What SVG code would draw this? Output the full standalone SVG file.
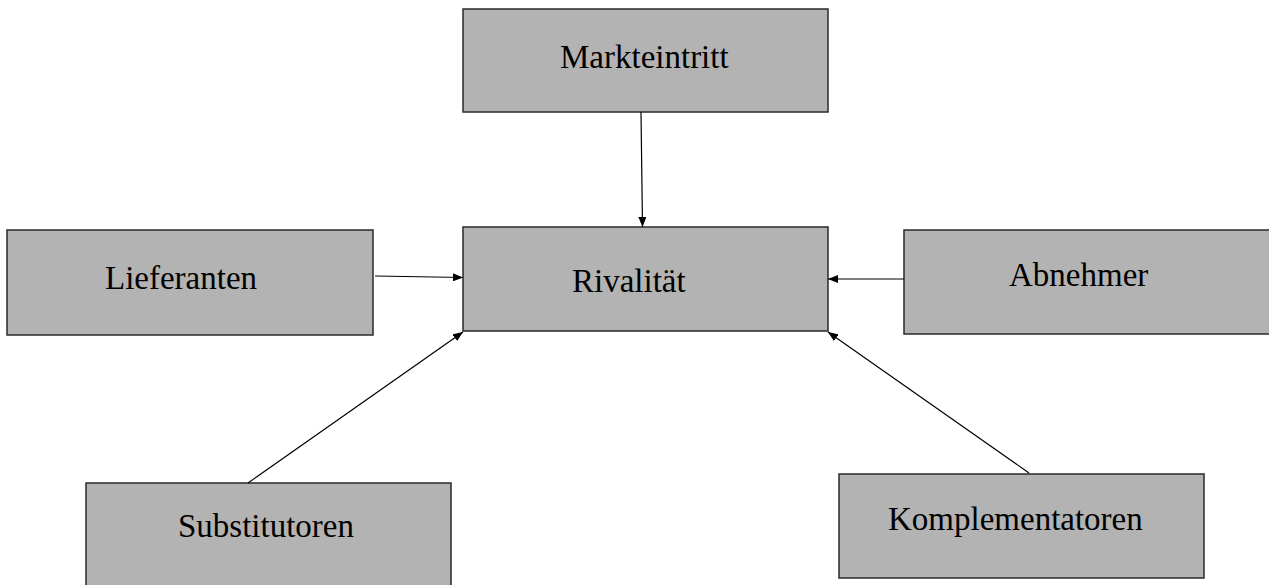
<svg xmlns="http://www.w3.org/2000/svg" width="1269" height="585" viewBox="0 0 1269 585">
<style>
.box{fill:#b3b3b3;stroke:#2a2a2a;stroke-width:1.5}
.lbl{font-family:"Liberation Serif","Times New Roman",serif;font-size:33px;fill:#000}
.con{stroke:#000;stroke-width:1.2;fill:none;marker-end:url(#arr)}
</style>
<defs>
<marker id="arr" viewBox="0 0 10 8" refX="10" refY="4" markerWidth="10" markerHeight="8" markerUnits="userSpaceOnUse" orient="auto">
<path d="M0,0 L10,4 L0,8 Z" fill="#000"/>
</marker>
</defs>
<rect width="1269" height="585" fill="#fff"/>
<g id="markteintritt"><rect class="box" x="463" y="9" width="365" height="103"/><text class="lbl" x="560" y="68">Markteintritt</text></g>
<g id="lieferanten"><rect class="box" x="7" y="230" width="366" height="105"/><text class="lbl" x="105" y="289">Lieferanten</text></g>
<g id="rivalitaet"><rect class="box" x="463" y="227" width="365" height="104"/><text class="lbl" x="572" y="292">Rivalität</text></g>
<g id="abnehmer"><rect class="box" x="904" y="230" width="366" height="104"/><text class="lbl" x="1009" y="286">Abnehmer</text></g>
<g id="substitutoren"><rect class="box" x="86" y="483" width="365" height="104"/><text class="lbl" x="178" y="537">Substitutoren</text></g>
<g id="komplementatoren"><rect class="box" x="839" y="474" width="365" height="104"/><text class="lbl" x="888" y="530">Komplementatoren</text></g>
<g id="connectors">
<line class="con" x1="641" y1="112" x2="642.5" y2="227"/>
<line class="con" x1="375" y1="276" x2="463" y2="277.5"/>
<line class="con" x1="904" y1="279" x2="828" y2="279"/>
<line class="con" x1="248" y1="483" x2="463" y2="332"/>
<line class="con" x1="1029" y1="473" x2="828" y2="332"/>
</g>
</svg>
